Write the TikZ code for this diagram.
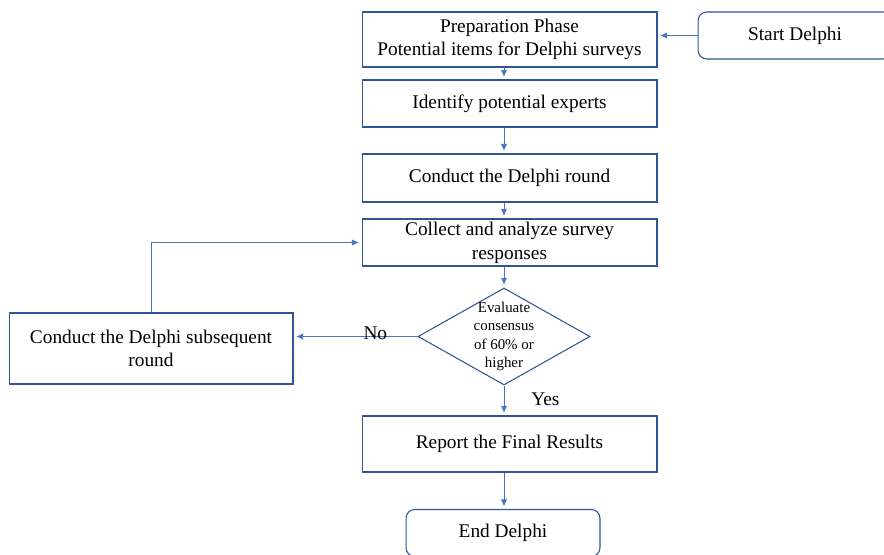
\documentclass[tikz,border=0pt]{standalone}
\usepackage{fontspec}
\setmainfont{Liberation Serif}
\usetikzlibrary{shapes.geometric,arrows.meta}
\definecolor{boxblue}{RGB}{47,85,151}
\definecolor{lineblue}{RGB}{68,114,196}
\begin{document}
\begin{tikzpicture}[x=0.02cm,y=-0.02cm,
    box/.style={draw=boxblue, line width=0.6pt, minimum width=5.9cm, inner sep=0pt, align=center, font=\fontsize{11}{13.5}\selectfont},
    rbox/.style={box, rounded corners=5pt, minimum width=3.88cm, minimum height=0.94cm},
    link/.style={draw=lineblue, line width=0.5pt, -{Latex[length=4pt,width=3.6pt]}, shorten >=1.5pt}]
    \useasboundingbox (0,0) rectangle (884,554);
    \node[box, minimum height=1.1cm] (prep) at (509.5,39.5) {Preparation Phase\\Potential items for Delphi surveys};
    \node[rbox] (start) at (795,35.5) {Start Delphi};
    \node[box, minimum height=0.94cm] (ident) at (509.5,103.5) {Identify potential experts};
    \node[box, minimum height=0.96cm] (round) at (509.5,178) {Conduct the Delphi round};
    \node[box, minimum height=0.94cm] (coll) at (509.5,242.5) {Collect and analyze survey\\responses};
    \node[diamond, aspect=1.77, draw=boxblue, line width=0.6pt, minimum width=3.44cm, minimum height=1.94cm, inner sep=-1.5pt, align=center, font=\fontsize{8.5}{10.5}\selectfont] (eval) at (504,336.5) {Evaluate\\consensus\\of 60\% or\\higher};
    \node[box, minimum width=5.68cm, minimum height=1.42cm] (subs) at (151,348.5) {Conduct the Delphi subsequent\\round};
    \node[box, minimum height=1.12cm] (report) at (509.5,444) {Report the Final Results};
    \node[rbox] (fin) at (503,533) {End Delphi};
    % connectors
    \draw[link] (start.west) -- (start.west -| prep.east);
    \draw[link] (prep.south -| eval) -- (ident.north -| eval);
    \draw[link] (ident.south -| eval) -- (round.north -| eval);
    \draw[link] (round.south -| eval) -- (coll.north -| eval);
    \draw[link] (coll.south -| eval) -- (eval.north);
    \draw[link] (eval.west) -- node[pos=0.34, yshift=2pt, font=\fontsize{11}{13}\selectfont] (no) {No} (eval.west -| subs.east);
    \draw[link] (subs.north) |- (coll.west);
    \draw[link] (eval.south) -- node[pos=0.45, right=12pt, font=\fontsize{11}{13}\selectfont] (yes) {Yes} (report.north -| eval);
    \draw[link] (report.south -| eval) -- (fin.north -| eval);
\end{tikzpicture}
\end{document}
